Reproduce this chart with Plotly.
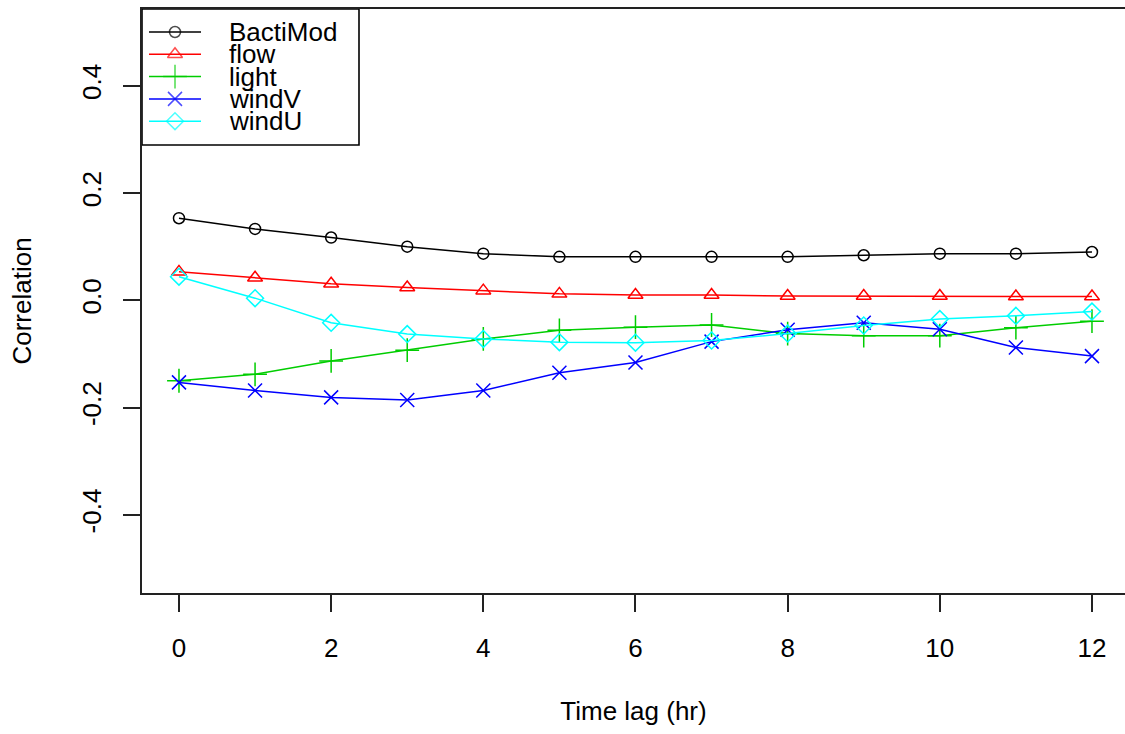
import plotly.graph_objects as go

# Cross-correlation of each driver with the response, by time lag
lags = list(range(13))
series_names = ["BactiMod", "flow", "light", "windV", "windU"]
bactimod = [0.153, 0.133, 0.117, 0.100, 0.087, 0.081, 0.081, 0.081, 0.081, 0.084, 0.087, 0.087, 0.090]
flow = [0.053, 0.042, 0.031, 0.024, 0.018, 0.012, 0.010, 0.010, 0.008, 0.008, 0.008, 0.007, 0.007]
light = [-0.150, -0.138, -0.113, -0.093, -0.072, -0.056, -0.050, -0.046, -0.062, -0.066, -0.066, -0.051, -0.039]
wind_v = [-0.153, -0.168, -0.181, -0.186, -0.168, -0.135, -0.116, -0.077, -0.055, -0.042, -0.054, -0.088, -0.104]
wind_u = [0.044, 0.004, -0.042, -0.063, -0.072, -0.078, -0.079, -0.075, -0.062, -0.047, -0.035, -0.029, -0.021]
x_ticks = [0, 2, 4, 6, 8, 10, 12]
y_ticks = [-0.4, -0.2, 0.0, 0.2, 0.4]

values = [bactimod, flow, light, wind_v, wind_u]
colors = ["#000000", "#FF0000", "#00CD00", "#0000FF", "#00FFFF"]
symbols = ["circle-open", "triangle-up-open", "cross-thin-open", "x-thin-open", "diamond-open"]
sizes = [11, 13, 17, 14, 13]

FONT = "Liberation Sans, Arial, sans-serif"
W, H = 1125, 734
L, T, B = 142, 9, 593

fig = go.Figure()
for name, ys, c, s, sz in zip(series_names, values, colors, symbols, sizes):
    fig.add_trace(go.Scatter(
        x=lags, y=ys, name=name, mode="lines+markers",
        line=dict(color=c, width=1.5),
        marker=dict(symbol=s, size=sz, color=c, line=dict(color=c, width=1.5)),
        showlegend=False,
    ))

# Legend drawn in figure-pixel coordinates on a hidden overlay axis pair
row_y0, row_dy = 32, 22.3
for i, (name, c, s, sz) in enumerate(zip(series_names, colors, symbols, sizes)):
    ry = row_y0 + i * row_dy
    fig.add_trace(go.Scatter(
        x=[149, 175, 201], y=[ry, ry, ry], mode="lines+markers",
        xaxis="x2", yaxis="y2", showlegend=False, hoverinfo="skip",
        line=dict(color=c, width=1.5),
        marker=dict(symbol=s, size=[0, sz, 0], color=c, line=dict(color=c, width=1.5)),
    ))
    fig.add_annotation(x=227, y=ry, xref="x2", yref="y2", text=name,
                       showarrow=False, xanchor="left", yanchor="middle",
                       font=dict(family=FONT, size=26, color="#000000"))
fig.add_shape(type="rect", xref="x2", yref="y2", x0=142, x1=359, y0=9, y1=145,
              line=dict(color="#000000", width=1.6))

fig.update_layout(
    width=W, height=H,
    margin=dict(l=L, r=0, t=T, b=H - B),
    paper_bgcolor="white", plot_bgcolor="white",
    font=dict(family=FONT, size=26, color="#000000"),
    xaxis=dict(
        range=[-0.486, 12.434], tickvals=x_ticks, ticks="outside", ticklen=17,
        tickwidth=1.6, tickcolor="#222", showline=True, linecolor="#222",
        linewidth=1.6, mirror=True, showgrid=False, zeroline=False,
        ticklabelstandoff=14,
        title=dict(text="Time lag (hr)", standoff=40, font=dict(size=26)),
    ),
    yaxis=dict(
        range=[-0.5456, 0.543], tickvals=y_ticks, ticktext=["-0.4", "-0.2", "0.0", "0.2", "0.4"],
        ticks="outside", ticklen=17, tickwidth=1.6, tickcolor="#222", tickangle=-90,
        showline=True, linecolor="#222", linewidth=1.6, showgrid=False, zeroline=False,
        ticklabelstandoff=12,
        title=dict(text="Correlation", standoff=38, font=dict(size=26)),
    ),
    xaxis2=dict(range=[L, W], overlaying="x", anchor="y2", visible=False, fixedrange=True),
    yaxis2=dict(range=[B, T], overlaying="y", anchor="x2", visible=False, fixedrange=True),
)

fig.write_html("out.html")
